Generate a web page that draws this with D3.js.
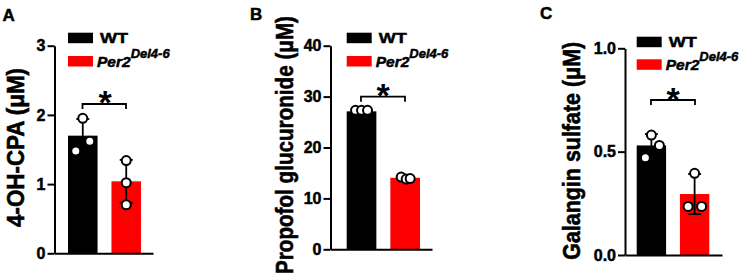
<!DOCTYPE html>
<html><head><meta charset="utf-8">
<script src="https://cdn.jsdelivr.net/npm/d3@7"></script>
<style>
body{margin:0;background:#fff}
svg{display:block}
text{font-family:"Liberation Sans",Arial,Helvetica,sans-serif}
</style></head>
<body>
<svg id="c" width="754" height="278"></svg>
<script>
// ---------- data ----------
const groups = ["WT", "Per2"];
const panelLetters = ["A", "B", "C"];
const yTitles = ["4-OH-CPA (μM)", "Propofol glucuronide (μM)", "Galangin sulfate (μM)"];
const yMax = [3, 40, 1];
const tickValsA = [0, 1, 2, 3];
const tickValsB = [0, 10, 20, 30, 40];
const tickValsC = [0, 0.5, 1.0];
const tickLabelsC = ["0.0", "0.5", "1.0"];
// bar means
const meansA = [1.70, 1.04];
const meansB = [27.1, 14.05];
const meansC = [0.53, 0.295];
// SD
const sdA = [0.24, 0.31];
const sdB = [0.3, 0.3];
const sdC = [0.055, 0.097];
// individual points
const ptsA_WT = [1.95, 1.62, 1.48];
const ptsA_KO = [1.34, 1.02, 0.70];
const ptsB_WT = [27.3, 27.3, 27.3];
const ptsB_KO = [14.2, 13.8, 13.9];
const ptsC_WT = [0.58, 0.53, 0.47];
const ptsC_KO = [0.395, 0.235, 0.235];
const legendLabels = ["WT", "Per2", "Del4-6"];

// ---------- layout / style ----------
const colors = ["#000000", "#ff0000"];
const panels = [
  {letter:panelLetters[0], title:yTitles[0], max:yMax[0], ticks:tickValsA, fmt:d=>String(d),
   means:meansA, sd:sdA, pts:[ptsA_WT, ptsA_KO], jit:[[0,7,-7],[0,0,0]],
   axisX:54.5, y0:253.3, yTop:45.7, barL:68, barR:141, axisEnd:153,
   letterXY:[2.5,20.7], titleX:24, titleY:147.5, titleLen:159,
   legX:68, legY:[32.7,56], bracket:[82.5,126,104], star:[105,114]},
  {letter:panelLetters[1], title:yTitles[1], max:yMax[1], ticks:tickValsB, fmt:d=>String(d),
   means:meansB, sd:sdB, pts:[ptsB_WT, ptsB_KO], jit:[[-6,0,6],[-4,1,5]],
   axisX:330.5, y0:249.3, yTop:45.7, barL:346.7, barR:420, axisEnd:432,
   letterXY:[250,20], titleX:293, titleY:145, titleLen:258,
   legX:346.7, legY:[32.7,56], bracket:[361,405,96.7], star:[383,107]},
  {letter:panelLetters[2], title:yTitles[2], max:yMax[2], ticks:tickValsC, fmt:(d,i)=>tickLabelsC[i],
   means:meansC, sd:sdC, pts:[ptsC_WT, ptsC_KO], jit:[[0,8,-6],[0,-6.5,7]],
   axisX:625, y0:255, yTop:48.3, barL:636.7, barR:709.3, axisEnd:722,
   letterXY:[540,19.3], titleX:580, titleY:150.8, titleLen:218,
   legX:636.7, legY:[36.7,59.3], bracket:[651,695,100], star:[673,110.5]}
];

const svg = d3.select("#c");
const heavy = sel => sel.attr("stroke","#000").attr("stroke-width",0.5).attr("paint-order","stroke");

panels.forEach(p => {
  const g = svg.append("g");
  const y = d3.scaleLinear().domain([0, p.max]).range([p.y0, p.yTop]);
  const x = d3.scaleBand().domain(groups).range([p.barL, p.barR]).paddingInner(0.32).paddingOuter(0);
  const xl = d3.scaleLinear().domain([0,1]).range([p.axisX, p.axisEnd]);

  // bars
  g.selectAll("rect.bar").data(groups).join("rect")
    .attr("x", d => x(d)).attr("width", x.bandwidth())
    .attr("y", (d,i) => y(p.means[i])).attr("height", (d,i) => p.y0 - y(p.means[i]))
    .attr("fill", (d,i) => colors[i]);

  // error bars
  groups.forEach((gr,i) => {
    const cx = x(gr) + x.bandwidth()/2;
    const lo = y(p.means[i] - p.sd[i]), hi = y(p.means[i] + p.sd[i]);
    const eg = g.append("g").attr("stroke","#000").attr("stroke-width",1.8);
    eg.append("line").attr("x1",cx).attr("x2",cx).attr("y1",lo).attr("y2",hi);
    eg.append("line").attr("x1",cx-6.5).attr("x2",cx+6.5).attr("y1",lo).attr("y2",lo);
    eg.append("line").attr("x1",cx-6.5).attr("x2",cx+6.5).attr("y1",hi).attr("y2",hi);
  });

  // axes
  const ya = d3.axisLeft(y).tickValues(p.ticks).tickFormat(p.fmt).tickSize(7).tickPadding(2).tickSizeOuter(0);
  const yg = g.append("g").attr("transform", `translate(${p.axisX},0)`).call(ya);
  yg.select(".domain").attr("stroke-width", 2);
  yg.selectAll(".tick line").attr("stroke-width", 2);
  yg.selectAll(".tick text").attr("font-size", 16).attr("font-weight", "bold")
    .attr("font-family", '"Liberation Sans",Arial,sans-serif').attr("fill","#000").call(heavy);
  const xa = d3.axisBottom(xl).tickValues([]).tickSizeOuter(0);
  const xg = g.append("g").attr("transform", `translate(0,${p.y0})`).call(xa);
  xg.select(".domain").attr("stroke-width", 2);

  // points
  groups.forEach((gr,i) => {
    const cx = x(gr) + x.bandwidth()/2;
    g.selectAll(null).data(p.pts[i]).join("circle")
      .attr("cx", (d,j) => cx + p.jit[i][j]).attr("cy", d => y(d)).attr("r", 4.5)
      .attr("fill", "#fff").attr("stroke", "#000").attr("stroke-width", 2);
  });

  // significance bracket
  const [bx1, bx2, by] = p.bracket;
  g.append("path").attr("d", `M${bx1},${by+5}V${by}H${bx2}V${by+5}`)
    .attr("fill","none").attr("stroke","#000").attr("stroke-width",1.8);
  g.append("text").attr("x", p.star[0]).attr("y", p.star[1]).attr("text-anchor","middle")
    .attr("font-size", 34).attr("font-weight","bold").text("*");

  // panel letter
  g.append("text").attr("x", p.letterXY[0]).attr("y", p.letterXY[1])
    .attr("font-size", 17).attr("font-weight","bold").call(heavy).text(p.letter);

  // y title (font 20, glyphs stretched across the line to the reference's cap height)
  g.append("text").attr("transform", `translate(${p.titleX},${p.titleY}) rotate(-90) scale(1,1.2)`)
    .attr("text-anchor","middle").attr("font-size", 20).attr("font-weight","bold")
    .attr("textLength", p.titleLen).attr("lengthAdjust","spacingAndGlyphs")
    .call(heavy).text(p.title);

  // legend
  groups.forEach((gr,i) => {
    g.append("rect").attr("x", p.legX).attr("y", p.legY[i]).attr("width", 25).attr("height", 10.5)
      .attr("fill", colors[i]);
  });
  g.append("text").attr("x", p.legX + 32).attr("y", p.legY[0] + 10.5)
    .attr("font-size", 15.5).attr("font-weight","bold").attr("textLength", 28).attr("lengthAdjust","spacingAndGlyphs")
    .call(heavy).text(legendLabels[0]);
  const t2 = g.append("text").attr("x", p.legX + 29).attr("y", p.legY[1] + 10.7)
    .attr("font-size", 15.5).attr("font-weight","bold").attr("font-style","italic").call(heavy);
  t2.append("tspan").text(legendLabels[1]);
  t2.append("tspan").attr("font-size", 13).attr("dy", -9).text(legendLabels[2]);
});
</script>
</body></html>
